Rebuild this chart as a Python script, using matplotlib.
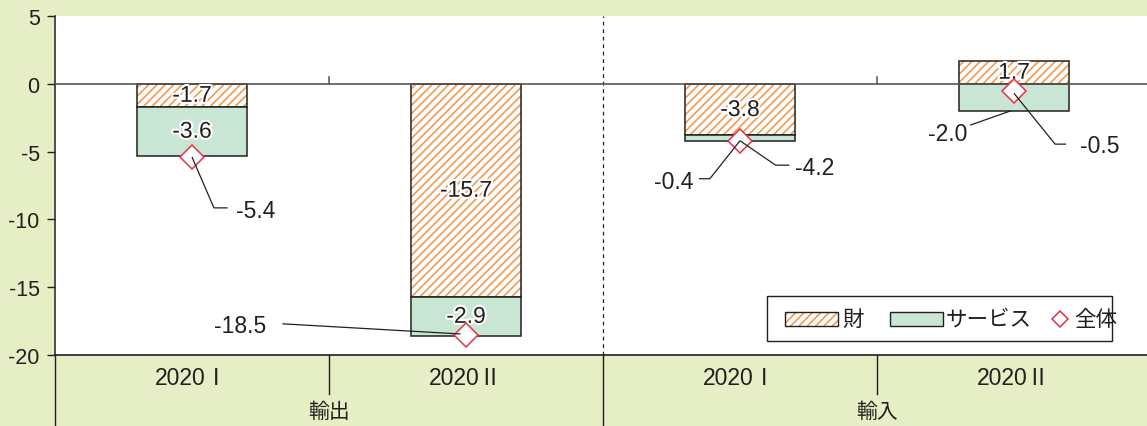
import matplotlib
matplotlib.use("Agg")
import matplotlib.pyplot as plt
from matplotlib.patches import Rectangle
import matplotlib.patheffects as pe
import matplotlib.transforms as mtransforms
import numpy as np

plt.rcParams['font.family'] = ['Liberation Sans', 'Noto Sans CJK JP', 'DejaVu Sans']
plt.rcParams['hatch.linewidth'] = 1.2

# data (percent change contributions)
categories = ['2020Ⅰ', '2020Ⅱ', '2020Ⅰ', '2020Ⅱ']
groups = ['輸出', '輸入']
goods = [-1.7, -15.7, -3.8, 1.7]
services = [-3.6, -2.9, -0.4, -2.0]
total = [-5.4, -18.5, -4.2, -0.5]
series_names = ['財', 'サービス', '全体']
yticks = [5, 0, -5, -10, -15, -20]

bg = '#e5eec4'
orange = '#f39a4f'
green = '#c9e5d3'
red = '#e8304a'
dark = '#231f20'

W, H = 1147, 427
fig = plt.figure(figsize=(W / 100, H / 100), dpi=100, facecolor=bg)
ax = fig.add_axes([55 / W, 71 / H, 1096 / W, 339 / H])
ax.set_facecolor('white')

x = np.arange(len(categories))
w = 0.40
goods_arr = np.array(goods)
serv_arr = np.array(services)
# services stack below goods when goods are negative, below zero when goods are positive
serv_bottom = np.where(goods_arr < 0, goods_arr, 0)

ax.bar(x, goods_arr, w, color='white', edgecolor=orange, hatch='////', linewidth=0, zorder=2)
ax.bar(x, goods_arr, w, fill=False, edgecolor=dark, linewidth=1.1, zorder=3)
ax.bar(x, serv_arr, w, bottom=serv_bottom, color=green, edgecolor=dark, linewidth=1.1, zorder=3)

ax.axhline(0, color='#555555', linewidth=1.2, zorder=4)

halo = [pe.withStroke(linewidth=3, foreground='white')]
fs = 16.5

# labels inside segments
for i in range(len(x)):
    g = goods_arr[i]
    ax.text(x[i], g / 2, f'{g:.1f}', ha='center', va='center', fontsize=fs,
            color=dark, path_effects=halo, zorder=6)
    s = serv_arr[i]
    if abs(s) >= 1.5 and i != 3:
        yc = serv_bottom[i] + s / 2
        ax.text(x[i], yc, f'{s:.1f}', ha='center', va='center', fontsize=fs,
                color=dark, path_effects=halo, zorder=6)

ax.plot(x, total, linestyle='none', marker='D', markersize=12.5,
        markerfacecolor='white', markeredgecolor=red, markeredgewidth=1.1, zorder=7)

# leader lines and outside labels
def leader(xs, ys, label, tx, ty, ha):
    ax.plot(xs, ys, color=dark, linewidth=0.9, zorder=8, solid_capstyle='butt')
    ax.text(tx, ty, label, ha=ha, va='center', fontsize=fs, color=dark, zorder=8)

leader([0, 0.08, 0.13], [total[0], -9.15, -9.15], f'{total[0]:.1f}', 0.16, -9.35, 'left')
leader([0.98, 0.33], [total[1] + 0.05, -17.7], f'{total[1]:.1f}', 0.27, -17.85, 'right')
leader([2.0, 1.89, 1.85], [total[2], -7.0, -7.0], f'{services[2]:.1f}', 1.83, -7.2, 'right')
leader([2.0, 2.13, 2.18], [total[2], -6.0, -6.0], f'{total[2]:.1f}', 2.2, -6.15, 'left')
leader([3.0, 3.15, 3.19], [total[3] - 0.2, -4.45, -4.45], f'{total[3]:.1f}', 3.24, -4.55, 'left')
leader([2.99, 2.84], [services[3] + 0.02, -3.05], f'{services[3]:.1f}', 2.83, -3.7, 'right')

ax.set_xlim(-0.5, 3.5)
ax.set_ylim(-20, 5)
ax.set_yticks(yticks)
ax.set_yticklabels([str(v) for v in yticks], fontsize=15.5, color=dark)
ax.tick_params(axis='y', direction='out', length=6, width=1, color=dark, pad=5)
ax.set_xticks([])

for side in ['top', 'right']:
    ax.spines[side].set_visible(False)
ax.spines['left'].set_color(dark)
ax.spines['bottom'].set_color(dark)
ax.spines['left'].set_linewidth(1.1)
ax.spines['bottom'].set_linewidth(1.2)

# dividers
ax.axvline(1.5, color=dark, linewidth=0.9, linestyle=(0, (3, 3)), zorder=1)
for xv in [0.5, 2.5]:
    ax.plot([xv, xv], [0, 0.5], color='#555555', linewidth=1.1, zorder=4)

trans = mtransforms.blended_transform_factory(ax.transData, ax.transAxes)
for xv in [0.5, 2.5]:
    ax.plot([xv, xv], [0, -0.115], transform=trans, color=dark, linewidth=1.0, clip_on=False)
for xv in [-0.5, 1.5]:
    ax.plot([xv, xv], [0, -0.22], transform=trans, color=dark, linewidth=1.0, clip_on=False)

for i, c in enumerate(categories):
    ax.text(x[i], -0.065, c, transform=trans, ha='center', va='center', fontsize=16.5, color=dark)
for j, gname in enumerate(groups):
    ax.text(0.5 + 2 * j, -0.165, gname, transform=trans, ha='center', va='center', fontsize=15, color=dark)

# legend box, laid out in figure pixels (origin top-left)
def fx(px):
    return px / W

def fy(py):
    return 1 - py / H

fig.patches.append(Rectangle((fx(767), fy(342)), fx(1112) - fx(767), fy(297) - fy(342),
                             transform=fig.transFigure, facecolor='white', edgecolor=dark,
                             linewidth=1.0, zorder=20))
ly = 320
fig.patches.append(Rectangle((fx(785), fy(ly + 7)), fx(53), 14 / H, transform=fig.transFigure,
                             facecolor='white', edgecolor=orange, hatch='////', linewidth=0, zorder=21))
fig.patches.append(Rectangle((fx(785), fy(ly + 7)), fx(53), 14 / H, transform=fig.transFigure,
                             fill=False, edgecolor=dark, linewidth=1.0, zorder=22))
fig.patches.append(Rectangle((fx(890), fy(ly + 7)), fx(53), 14 / H, transform=fig.transFigure,
                             facecolor=green, edgecolor=dark, linewidth=1.0, zorder=21))
fig.lines.append(plt.Line2D([fx(1060)], [fy(ly)], transform=fig.transFigure, linestyle='none',
                            marker='D', markersize=8.5, markerfacecolor='white',
                            markeredgecolor=red, markeredgewidth=1.1, zorder=22))
for tx, name in zip([842, 946, 1074], series_names):
    fig.text(fx(tx), fy(ly), name, ha='left', va='center', fontsize=15.5,
             color=dark, zorder=22)

fig.savefig('out.png', dpi=100, facecolor=bg)
